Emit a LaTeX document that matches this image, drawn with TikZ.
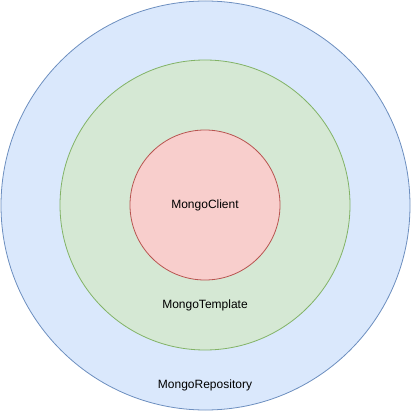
\documentclass[tikz,border=0pt]{standalone}
\usepackage{fontspec}
\setmainfont{Liberation Sans}
\definecolor{bluefill}{HTML}{DAE8FC}
\definecolor{bluestroke}{HTML}{6C8EBF}
\definecolor{greenfill}{HTML}{D5E8D4}
\definecolor{greenstroke}{HTML}{82B366}
\definecolor{redfill}{HTML}{F8CECC}
\definecolor{redstroke}{HTML}{B85450}
\begin{document}
\begin{tikzpicture}[x=1pt,y=-1pt,
  ring/.style={circle,inner sep=0pt,line width=0.8pt},
  lbl/.style={font=\fontsize{12}{14}\selectfont,text=black}]
\useasboundingbox (0,0) rectangle (411,411);
\node[ring,draw=bluestroke,fill=bluefill,minimum size=409pt] (outer) at (205.5,205.5) {};
\node[ring,draw=greenstroke,fill=greenfill,minimum size=290pt] (middle) at (205,205) {};
\node[ring,draw=redstroke,fill=redfill,minimum size=150pt] (inner) at (205,205) {};
\node[lbl] (client) at (205,205) {MongoClient};
\node[lbl] (template) at (205,305) {MongoTemplate};
\node[lbl] (repo) at (205,385) {MongoRepository};
\end{tikzpicture}
\end{document}
